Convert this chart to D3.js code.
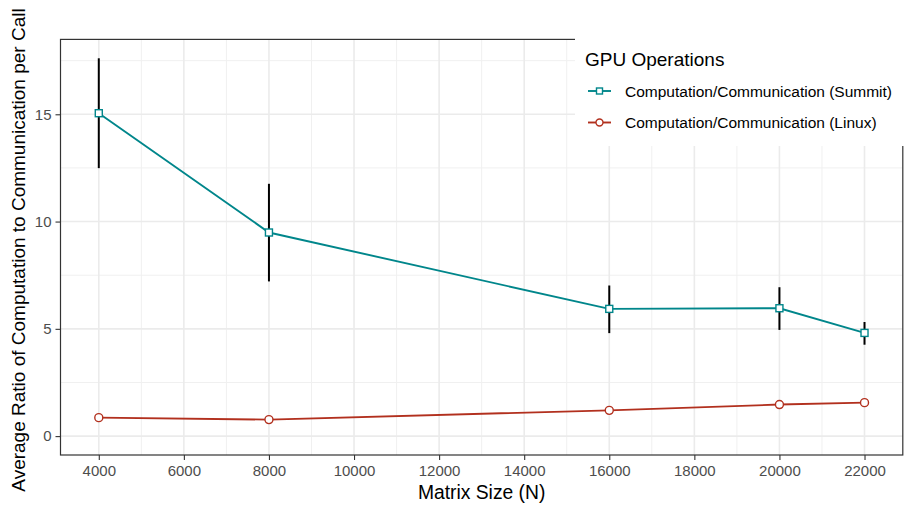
<!DOCTYPE html>
<html>
<head>
<meta charset="utf-8">
<script src="https://cdn.jsdelivr.net/npm/d3@7"></script>
<style>
  html, body { margin: 0; padding: 0; background: #fff; }
  svg { display: block; font-family: "Liberation Sans", Arial, sans-serif; }
</style>
</head>
<body>
<svg id="chart" width="906" height="506"></svg>
<script>
// Matrix sizes (x) and the average computation/communication ratio per call
const matrixSizes = [4000, 8000, 16000, 20000, 22000];
const summitRatio = [15.05, 9.49, 5.93, 5.96, 4.81];
const summitLow   = [12.49, 7.21, 4.80, 4.95, 4.26];
const summitHigh  = [17.61, 11.76, 7.02, 6.94, 5.32];
const linuxRatio  = [0.86, 0.77, 1.20, 1.47, 1.56];

const xTicks = [4000, 6000, 8000, 10000, 12000, 14000, 16000, 18000, 20000, 22000];
const xMinor = [5000, 7000, 9000, 11000, 13000, 15000, 17000, 19000, 21000];
const yTicks = [0, 5, 10, 15];
const yMinor = [2.5, 7.5, 12.5, 17.5];

const seriesNames = ["Computation/Communication (Summit)", "Computation/Communication (Linux)"];
const seriesColors = ["#00868B", "#B2301E"];

const svg = d3.select("#chart");
const panel = { left: 60.5, right: 902.8, top: 39.4, bottom: 455 };

// ggplot-style 5% expansion around the data range (which starts at 0)
const xLo = d3.min(matrixSizes), xHi = d3.max(matrixSizes);
const xPad = (xHi - xLo) * 0.05;
const x = d3.scaleLinear().domain([xLo - xPad, xHi + xPad]).range([panel.left, panel.right]);

const yLo = 0, yHi = d3.max(summitHigh);
const yPad = (yHi - yLo) * 0.05;
const y = d3.scaleLinear().domain([yLo - yPad, yHi + yPad]).range([panel.bottom, panel.top]);

// grid
const grid = svg.append("g");
grid.selectAll(".xminor").data(xMinor).join("line")
  .attr("x1", d => x(d)).attr("x2", d => x(d))
  .attr("y1", panel.top).attr("y2", panel.bottom)
  .attr("stroke", "#F0F0F0").attr("stroke-width", 1);
grid.selectAll(".yminor").data(yMinor).join("line")
  .attr("y1", d => y(d)).attr("y2", d => y(d))
  .attr("x1", panel.left).attr("x2", panel.right)
  .attr("stroke", "#F0F0F0").attr("stroke-width", 1);
grid.selectAll(".xmajor").data(xTicks).join("line")
  .attr("x1", d => x(d)).attr("x2", d => x(d))
  .attr("y1", panel.top).attr("y2", panel.bottom)
  .attr("stroke", "#EBEBEB").attr("stroke-width", 1.6);
grid.selectAll(".ymajor").data(yTicks).join("line")
  .attr("y1", d => y(d)).attr("y2", d => y(d))
  .attr("x1", panel.left).attr("x2", panel.right)
  .attr("stroke", "#EBEBEB").attr("stroke-width", 1.6);

// axes
const xAxis = svg.append("g")
  .attr("transform", `translate(0,${panel.bottom})`)
  .call(d3.axisBottom(x).tickValues(xTicks).tickSize(5).tickPadding(5).tickFormat(d3.format("d")));
const yAxis = svg.append("g")
  .attr("transform", `translate(${panel.left},0)`)
  .call(d3.axisLeft(y).tickValues(yTicks).tickSize(5).tickPadding(4).tickFormat(d3.format("d")));
[xAxis, yAxis].forEach(a => {
  a.select(".domain").remove();
  a.selectAll(".tick line").attr("stroke", "#333").attr("stroke-width", 1.1);
  a.selectAll(".tick text").attr("fill", "#4D4D4D").attr("font-size", 15)
    .attr("font-family", "Liberation Sans, Arial, sans-serif");
});

// error bars (Summit)
svg.append("g").selectAll("line").data(matrixSizes).join("line")
  .attr("x1", d => x(d)).attr("x2", d => x(d))
  .attr("y1", (d, i) => y(summitLow[i])).attr("y2", (d, i) => y(summitHigh[i]))
  .attr("stroke", "#000").attr("stroke-width", 2);

const line = d3.line().x(d => x(d[0])).y(d => y(d[1]));
const summitPts = matrixSizes.map((d, i) => [d, summitRatio[i]]);
const linuxPts = matrixSizes.map((d, i) => [d, linuxRatio[i]]);

svg.append("path").datum(summitPts).attr("d", line)
  .attr("fill", "none").attr("stroke", seriesColors[0]).attr("stroke-width", 1.9);
svg.append("path").datum(linuxPts).attr("d", line)
  .attr("fill", "none").attr("stroke", seriesColors[1]).attr("stroke-width", 1.9);

const sq = 7;
svg.append("g").selectAll("rect").data(summitPts).join("rect")
  .attr("x", d => x(d[0]) - sq / 2).attr("y", d => y(d[1]) - sq / 2)
  .attr("width", sq).attr("height", sq)
  .attr("fill", "#fff").attr("stroke", seriesColors[0]).attr("stroke-width", 1.4);
svg.append("g").selectAll("circle").data(linuxPts).join("circle")
  .attr("cx", d => x(d[0])).attr("cy", d => y(d[1])).attr("r", 4)
  .attr("fill", "#fff").attr("stroke", seriesColors[1]).attr("stroke-width", 1.4);

// panel border
svg.append("rect")
  .attr("x", panel.left).attr("y", panel.top)
  .attr("width", panel.right - panel.left).attr("height", panel.bottom - panel.top)
  .attr("fill", "none").attr("stroke", "#333").attr("stroke-width", 1.2);

// axis titles
svg.append("text")
  .attr("x", (panel.left + panel.right) / 2).attr("y", 498.5)
  .attr("text-anchor", "middle").attr("font-size", 19.3).attr("fill", "#000")
  .text("Matrix Size (N)");
svg.append("text")
  .attr("transform", `translate(25,250) rotate(-90)`)
  .attr("text-anchor", "middle").attr("font-size", 19).attr("fill", "#000")
  .text("Average Ratio of Computation to Communication per Call");

// legend (placed inside the panel, top right)
const legend = svg.append("g");
legend.append("rect").attr("x", 575).attr("y", 28).attr("width", 331).attr("height", 118).attr("fill", "#fff");
legend.append("text").attr("x", 585).attr("y", 66).attr("font-size", 19).attr("fill", "#000").text("GPU Operations");
const rows = [91, 122.5];
seriesNames.forEach((name, i) => {
  const g = legend.append("g").attr("transform", `translate(0,${rows[i]})`);
  g.append("line").attr("x1", 588).attr("x2", 611).attr("stroke", seriesColors[i]).attr("stroke-width", 1.9);
  if (i === 0) {
    g.append("rect").attr("x", 599.5 - 3).attr("y", -3).attr("width", 6).attr("height", 6)
      .attr("fill", "#fff").attr("stroke", seriesColors[i]).attr("stroke-width", 1.4);
  } else {
    g.append("circle").attr("cx", 599.5).attr("cy", 0).attr("r", 3.5)
      .attr("fill", "#fff").attr("stroke", seriesColors[i]).attr("stroke-width", 1.4);
  }
  g.append("text").attr("x", 625).attr("y", 5.5).attr("font-size", 15.5).attr("fill", "#000").text(name);
});
</script>
</body>
</html>
